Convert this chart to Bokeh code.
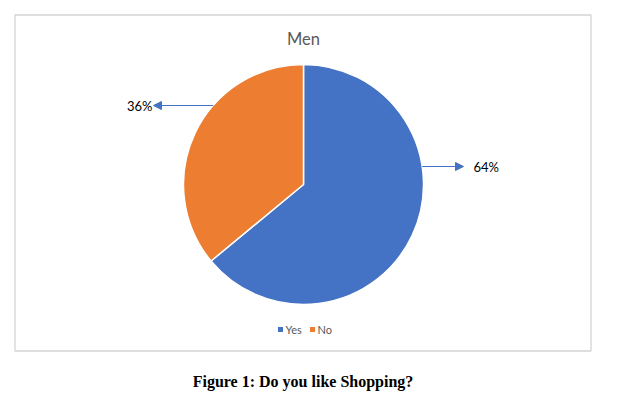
import numpy as np
from bokeh.plotting import figure
from bokeh.models import Range1d, Arrow, NormalHead
from bokeh.core.properties import value
from bokeh.embed import file_html
from bokeh.resources import INLINE

categories = ["Yes", "No"]
shares = [64, 36]
colors = ["#4472C4", "#ED7D31"]
pct_labels = ["64%", "36%"]
title_text = "Men"
caption_text = "Figure 1: Do you like Shopping?"

W, H = 632, 398
def Y(y):
    return H - y

p = figure(width=W, height=H, x_range=Range1d(0, W), y_range=Range1d(0, H),
           output_backend="svg", toolbar_location=None, min_border=0,
           x_axis_location=None, y_axis_location=None)
p.grid.visible = False
p.outline_line_color = None
p.background_fill_color = "white"
p.border_fill_color = "white"

# chart border
p.quad(left=[14.5], right=[590.5], top=[Y(14.5)], bottom=[Y(350.5)],
       fill_color=None, line_color="#d4d4d4", line_width=1.3)

# title
p.text(x=[303], y=[Y(38)], text=[title_text], text_font=value("Lato"),
       text_font_size="16.5px", text_color="#595959", text_align="center",
       text_baseline="middle")

# pie
cx, cy, R = 303, Y(184), 120
frac = np.array(shares, dtype=float) / sum(shares)
cum = np.concatenate([[0.0], np.cumsum(frac)])
start = np.pi / 2 - 2 * np.pi * cum[:-1]
end = np.pi / 2 - 2 * np.pi * cum[1:]
p.wedge(x=cx, y=cy, radius=R, start_angle=start, end_angle=end,
        direction="clock", fill_color=colors, line_color="white", line_width=1.5)

# data labels with leader arrows
label_pos = [(473, 166, "left", 1), (152, 105, "right", -1)]
for (lx, ly, align, side), txt in zip(label_pos, pct_labels):
    dy = (H - ly) - cy
    x0 = cx + side * np.sqrt(R ** 2 - dy ** 2)
    x1 = lx - side * 10 if side > 0 else lx + 1
    p.add_layout(Arrow(end=NormalHead(size=8, fill_color="#4472C4", line_color="#4472C4"),
                       x_start=x0, y_start=Y(ly), x_end=x1, y_end=Y(ly),
                       line_color="#4472C4", line_width=1))
    p.text(x=[lx], y=[Y(ly)], text=[txt], text_font=value("Lato"),
           text_font_size="13px", text_color="#000000", text_align=align,
           text_baseline="middle")

# legend
leg_x = [280, 312]
p.scatter(x=leg_x, y=[Y(329)] * 2, marker="square", size=5,
          fill_color=colors, line_color=None)
p.text(x=[x + 5 for x in leg_x], y=[Y(329)] * 2, text=categories,
       text_font=value("Lato"), text_font_size="11px", text_color="#595959",
       text_align="left", text_baseline="middle")

# caption
p.text(x=[302.5], y=[Y(381)], text=[caption_text], text_font=value("Liberation Serif"),
       text_font_style="bold", text_font_size="16px", text_color="#000000",
       text_align="center", text_baseline="middle")

open("out.html", "w").write(file_html(p, INLINE))
